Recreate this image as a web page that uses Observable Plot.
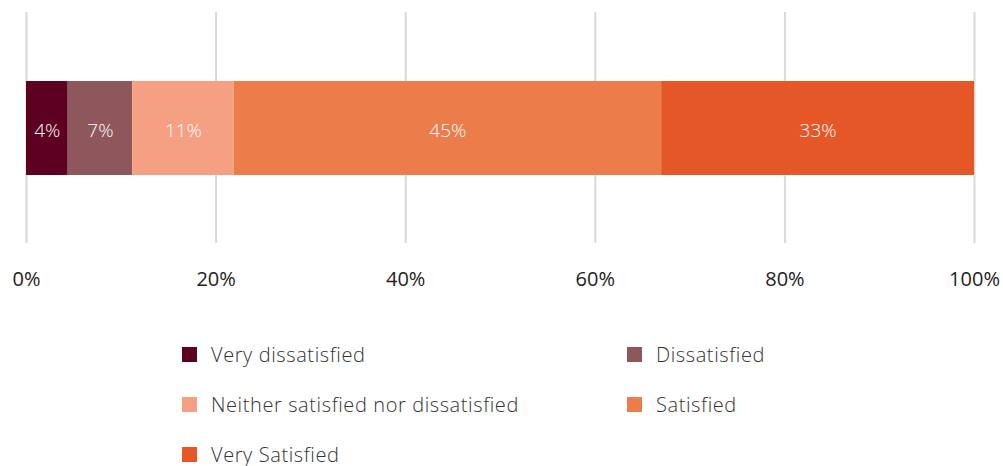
<!DOCTYPE html>
<html>
<head>
<meta charset="utf-8">
<script src="https://cdn.jsdelivr.net/npm/d3@7"></script>
<script src="https://cdn.jsdelivr.net/npm/@observablehq/plot@0.6"></script>
<style>
  html, body { margin: 0; padding: 0; background: #fff; }
  body { width: 1003px; height: 466px; overflow: hidden; font-family: "Open Sans", sans-serif; }
  #legend { position: relative; height: 166px; }
  .item { position: absolute; display: flex; align-items: center; font-size: 20px; letter-spacing: 0.6px; color: #333; font-weight: 300; white-space: nowrap; }
  .sw { width: 15px; height: 15px; margin-right: 14px; }
</style>
</head>
<body>
<div id="chart"></div>
<div id="legend"></div>
<script>
const categories = ["Very dissatisfied", "Dissatisfied", "Neither satisfied nor dissatisfied", "Satisfied", "Very Satisfied"];
const values = [4.4, 6.8, 10.7, 45.1, 33.0];
const labels = ["4%", "7%", "11%", "45%", "33%"];
const colors = ["#5e0022", "#8e575c", "#f6a083", "#ed7c4b", "#e65728"];
const xTicks = [0, 20, 40, 60, 80, 100];

const data = categories.map((c, i) => ({category: c, value: values[i], label: labels[i], row: "all"}));

const chart = Plot.plot({
  width: 1003,
  height: 300,
  marginLeft: 26,
  marginRight: 29,
  marginTop: 12,
  marginBottom: 57,
  style: {fontFamily: "'Open Sans', sans-serif", fontSize: "18px", color: "#222"},
  x: {domain: [0, 100], ticks: xTicks, tickFormat: d => d + "%", label: null},
  y: {domain: ["all"], padding: 0.42, axis: null},
  color: {domain: categories, range: colors},
  marks: [
    Plot.ruleX(xTicks, {stroke: "#d9d9d9", strokeWidth: 2}),
    Plot.barX(data, Plot.stackX({x: "value", y: "row", fill: "category", order: null})),
    Plot.textX(data, Plot.stackX({x: "value", y: "row", z: "category", text: "label", fill: "white", fontSize: 19, fontWeight: 300, dy: 2, order: null})),
    Plot.axisX({ticks: xTicks, tickFormat: d => d + "%", tickSize: 0, tickPadding: 28, fontSize: 20, fill: "#222", label: null})
  ]
});
document.getElementById("chart").appendChild(chart);

const legend = document.getElementById("legend");
const positions = [[182, 55], [627, 55], [182, 105], [627, 105], [182, 155]];
categories.forEach((c, i) => {
  const it = document.createElement("div");
  it.className = "item";
  it.style.left = positions[i][0] + "px";
  it.style.top = (positions[i][1] - 14) + "px";
  const sw = document.createElement("div");
  sw.className = "sw";
  sw.style.background = colors[i];
  const tx = document.createElement("span");
  tx.textContent = c;
  it.appendChild(sw);
  it.appendChild(tx);
  legend.appendChild(it);
});
</script>
</body>
</html>
